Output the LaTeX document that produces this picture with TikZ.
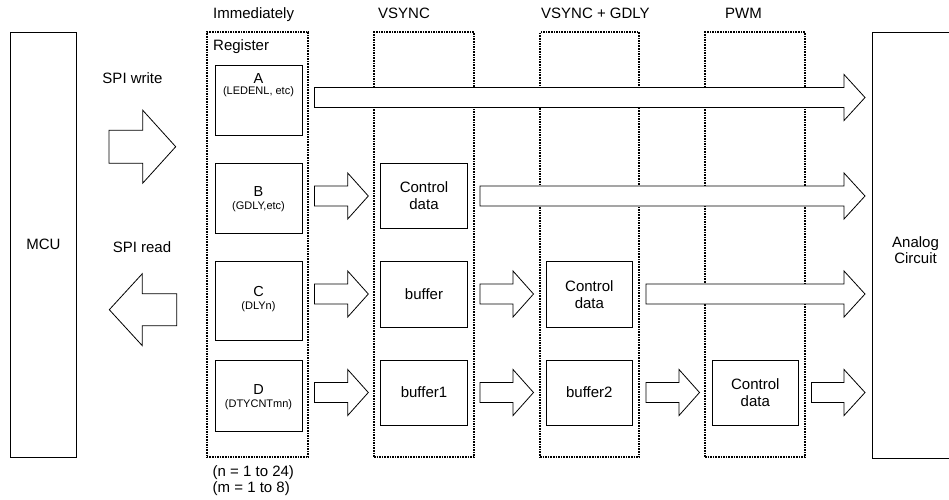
\documentclass[tikz,border=0pt]{standalone}
\usepackage{fontspec}
\setmainfont{Liberation Sans}
\newcommand\blockarr[6]{%
  \draw[barrow] ({#1},{#4-#5}) -- ({#2},{#4-#5}) -- ({#2},{#4-#6}) -- ({#3},{#4})
    -- ({#2},{#4+#6}) -- ({#2},{#4+#5}) -- ({#1},{#4+#5}) -- cycle;}
\begin{document}
\begin{tikzpicture}[x=1pt,y=-1pt,
  box/.style={draw, line width=0.8pt, inner sep=0pt},
  col/.style={draw, dash pattern=on 1.6pt off 1pt, line width=1.8pt, inner sep=0pt},
  lbl/.style={inner sep=0pt, font=\fontsize{15}{17}\selectfont},
  ctr/.style={inner sep=0pt, align=center, font=\fontsize{15}{16.5}\selectfont},
  sub/.style={inner sep=0pt, font=\fontsize{11}{12}\selectfont},
  let/.style={inner sep=0pt, font=\fontsize{14.5}{16}\selectfont},
  barrow/.style={draw, line width=0.8pt, fill=white, line join=miter}]
\useasboundingbox (0,0) rectangle (949,499);
\clip (0,0) rectangle (949,499);

% outer blocks
\node[box, minimum width=66.7pt, minimum height=425pt] (mcu) at (43.35,244.5) {};
\node[ctr] (mcutxt) at (43.35,244.5) {MCU};
\node[box, minimum width=88pt, minimum height=426pt] (ana) at (916,245) {};
\node[ctr] (anatxt) at (915.5,250) {Analog\\Circuit};

% dotted columns
\node[col, minimum width=101.6pt, minimum height=425pt] (c1) at (257.5,244.8) {};
\node[col, minimum width=100pt, minimum height=425pt] (c2) at (424,244.8) {};
\node[col, minimum width=99.3pt, minimum height=425pt] (c3) at (589.65,244.8) {};
\node[col, minimum width=100pt, minimum height=425pt] (c4) at (755,244.8) {};

% column titles
\node[lbl, anchor=base west] (t1) at (213,18) {Immediately};
\node[lbl, anchor=base west] (t2) at (378,18) {VSYNC};
\node[lbl, anchor=base west] (t3) at (541,18) {VSYNC + GDLY};
\node[lbl, anchor=base west] (t4) at (725,18) {PWM};
\node[lbl, anchor=base west] (reg) at (213,50) {Register};
\node[lbl, anchor=north west, align=left, font=\fontsize{15}{16}\selectfont] (nm) at (212.5,465) {(n = 1 to 24)\\(m = 1 to 8)};

% register boxes
\node[box, minimum width=87pt, minimum height=70pt] (A) at (258.5,100) {};
\node[let, anchor=base] (Al) at (258.5,83.3) {A};
\node[sub, anchor=base] (As) at (258.5,94.5) {(LEDENL, etc)};
\node[box, minimum width=87pt, minimum height=70pt] (B) at (258.5,198) {};
\node[let, anchor=base] (Bl) at (258.5,196.7) {B};
\node[sub, anchor=base] (Bs) at (258.5,209.3) {(GDLY,etc)};
\node[box, minimum width=87pt, minimum height=78.3pt] (C) at (258.5,300.85) {};
\node[let, anchor=base] (Cl) at (258.5,296.5) {C};
\node[sub, anchor=base] (Cs) at (258.5,309) {(DLYn)};
\node[box, minimum width=87pt, minimum height=71.7pt] (D) at (258.5,395.85) {};
\node[let, anchor=base] (Dl) at (258.5,394.5) {D};
\node[sub, anchor=base] (Ds) at (258.5,407) {(DTYCNTmn)};

% VSYNC column
\node[box, minimum width=86.6pt, minimum height=65pt, ctr] (Bc) at (424,195.8) {Control\\data};
\node[box, minimum width=86.6pt, minimum height=65.6pt, ctr] (Cb) at (424,294.5) {buffer};
\node[box, minimum width=86.6pt, minimum height=65pt, ctr] (Db1) at (424,392.5) {buffer1};

% VSYNC + GDLY column
\node[box, minimum width=86.7pt, minimum height=65.6pt, ctr] (Cc) at (589.35,294.5) {Control\\data};
\node[box, minimum width=86.7pt, minimum height=65pt, ctr] (Db2) at (589.35,392.5) {buffer2};

% PWM column
\node[box, minimum width=86pt, minimum height=65pt, ctr] (Dc) at (755.3,392.5) {Control\\data};

% SPI arrows
\node[lbl, anchor=base] (spiw) at (132.5,83) {SPI write};
\blockarr{109}{142.7}{175.7}{146.7}{16.5}{36.5}
\node[lbl, anchor=base] (spir) at (142,252.7) {SPI read};
\blockarr{176.7}{142.3}{109.3}{309.7}{16}{36}

% row A
\blockarr{314.5}{844}{865}{97.5}{10}{23}
% row B
\blockarr{314.5}{347.7}{368.3}{196}{10}{23}
\blockarr{480}{844}{865}{196}{10}{23}
% row C
\blockarr{314.5}{347.7}{368.3}{294}{10}{23}
\blockarr{480}{513}{533.5}{294}{10}{23}
\blockarr{646}{844}{865}{294}{10}{23}
% row D
\blockarr{314.5}{347.7}{368.3}{392.5}{10}{23}
\blockarr{480}{513}{533.5}{392.5}{10}{23}
\blockarr{646}{679}{699.5}{392.5}{10}{23}
\blockarr{811.5}{844}{865}{392.5}{10}{23}
\end{tikzpicture}
\end{document}
